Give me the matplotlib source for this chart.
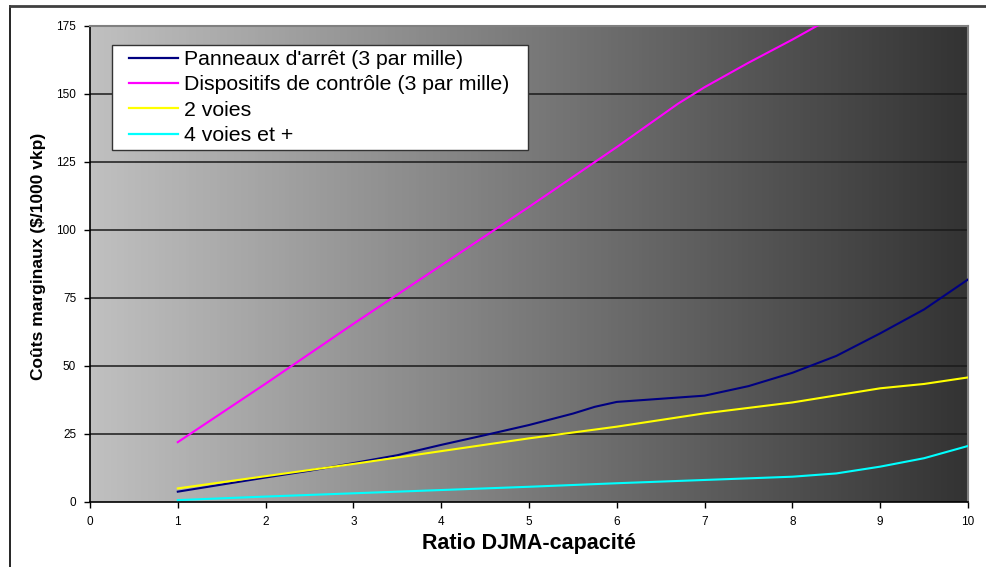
import numpy as np
import matplotlib
matplotlib.use("Agg")
import matplotlib.pyplot as plt
from matplotlib.lines import Line2D
from matplotlib.patches import Rectangle

plt.rcParams['font.family'] = ['Liberation Sans', 'DejaVu Sans']

# Coûts marginaux selon le ratio DJMA-capacité
x_panneaux = [1, 1.5, 2, 2.5, 3, 3.5, 4, 4.5, 5, 5.5, 5.75, 6, 7, 7.5, 8, 8.5, 9, 9.5, 10]
y_panneaux = [3.8, 6.4, 9.0, 11.5, 14.3, 17.2, 21.0, 24.6, 28.3, 32.5, 35.0, 36.8, 39.1,
              42.6, 47.5, 53.7, 62.0, 70.8, 81.8]

x_dispositifs = [1, 2, 3, 4, 5, 6, 6.7, 7, 7.5, 8, 8.5]
y_dispositifs = [22.0, 43.5, 65.5, 87.0, 108.5, 130.5, 146.5, 152.5, 161.5, 170.0, 179.0]

x_voies = [1, 2, 3, 4, 5, 6, 7, 8, 8.5, 9, 9.5, 10]
y_2voies = [5.0, 9.5, 14.0, 18.7, 23.4, 27.7, 32.6, 36.6, 39.2, 41.8, 43.4, 45.8]
y_4voies = [0.7, 2.0, 3.2, 4.4, 5.6, 6.9, 8.1, 9.3, 10.5, 13.0, 16.1, 20.6]

labels = ["Panneaux d'arrêt (3 par mille)", "Dispositifs de contrôle (3 par mille)",
          "2 voies", "4 voies et +"]
colors = ["#000080", "#ff00ff", "#ffff00", "#00ffff"]

fig = plt.figure(figsize=(9.86, 5.67), dpi=100)
W, H = 986, 567
ax = fig.add_axes([90 / W, 1 - 502 / H, (968 - 90) / W, (502 - 26) / H])

# fond en dégradé gris clair -> gris foncé
grad = np.linspace(0, 1, 256).reshape(1, -1)
cmap = matplotlib.colors.LinearSegmentedColormap.from_list("g", ["#c0c0c0", "#333333"])
ax.imshow(grad, cmap=cmap, aspect='auto', extent=[0, 10, 0, 175], zorder=0)

for y in range(25, 175, 25):
    ax.axhline(y, color="#1a1a1a", lw=1.1, zorder=1)

ax.plot(x_panneaux, y_panneaux, color=colors[0], lw=1.5, zorder=3)
ax.plot(x_dispositifs, y_dispositifs, color=colors[1], lw=1.5, zorder=3)
ax.plot(x_voies, y_2voies, color=colors[2], lw=1.5, zorder=3)
ax.plot(x_voies, y_4voies, color=colors[3], lw=1.5, zorder=3)

ax.set_xlim(0, 10)
ax.set_ylim(0, 175)
ax.set_xticks(range(0, 11))
ax.set_yticks(range(0, 176, 25))
ax.tick_params(direction='out', length=4, width=1, labelsize=8.5, colors='black', pad=6)
for side in ['left', 'bottom']:
    ax.spines[side].set_color('black')
    ax.spines[side].set_linewidth(1.2)
for side in ['top', 'right']:
    ax.spines[side].set_color('#808080')
    ax.spines[side].set_linewidth(1.5)

ax.set_xlabel("Ratio DJMA-capacité", fontsize=15.5, fontweight='bold', labelpad=4)
ax.set_ylabel("Coûts marginaux ($/1000 vkp)", fontsize=12.5, fontweight='bold')
ax.yaxis.set_label_coords(-0.05, 0.515)

# légende : boîte blanche + entrées
box = Rectangle((112 / W, 1 - 150 / H), (528 - 112) / W, (150 - 45) / H,
                transform=fig.transFigure, facecolor='white', edgecolor='#333333',
                lw=1.0, zorder=4)
fig.add_artist(box)
handles = [Line2D([], [], color=c, lw=1.6) for c in colors]
leg = fig.legend(handles, labels, loc='upper left', bbox_to_anchor=(129 / W, 1 - 50 / H),
                 fontsize=15.3, frameon=False, handlelength=2.3, handletextpad=0.3,
                 labelspacing=0.3, borderpad=0, borderaxespad=0)
leg.set_zorder(5)

# cadre extérieur (gauche et haut)
fig.add_artist(Line2D([10 / W, 10 / W], [0, 1 - 6 / H], color='black', lw=1.2,
                      transform=fig.transFigure))
fig.add_artist(Line2D([10 / W, 1], [1 - 6 / H, 1 - 6 / H], color='#404040', lw=2,
                      transform=fig.transFigure))

fig.savefig("out.png", dpi=100)
